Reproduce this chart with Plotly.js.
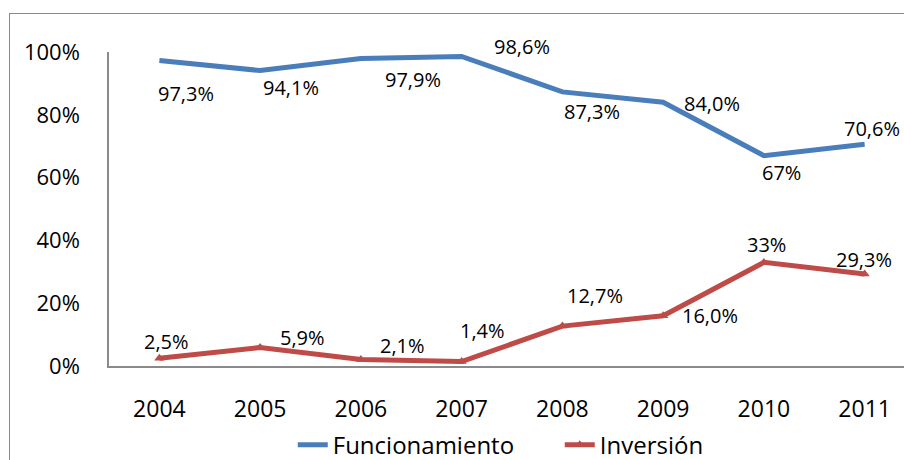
<!DOCTYPE html>
<html>
<head>
<meta charset="utf-8">
<script src="https://cdn.plot.ly/plotly-3.0.1.min.js"></script>
<style>
html,body{margin:0;padding:0;width:904px;height:460px;overflow:hidden;background:#fff;}
#frame{position:absolute;left:9px;top:13px;width:1000px;height:600px;border:1.5px solid #8a8a8a;box-sizing:border-box;}
#chart{position:absolute;left:0;top:0;width:930px;height:470px;}
</style>
</head>
<body>
<div id="frame"></div>
<div id="chart"></div>
<script>
const years = ['2004','2005','2006','2007','2008','2009','2010','2011'];
const funcionamiento = [0.973, 0.941, 0.979, 0.986, 0.873, 0.840, 0.67, 0.706];
const inversion = [0.025, 0.059, 0.021, 0.014, 0.127, 0.160, 0.33, 0.293];
const funcLabels = ['97,3%','94,1%','97,9%','98,6%','87,3%','84,0%','67%','70,6%'];
const invLabels = ['2,5%','5,9%','2,1%','1,4%','12,7%','16,0%','33%','29,3%'];
const yTickVals = [0, 0.2, 0.4, 0.6, 0.8, 1];
const yTickText = ['0%','20%','40%','60%','80%','100%'];

// label offsets (px) relative to each point
const funcShift = [[27,-33],[31,-17],[52,-21],[60,10],[30,-20],[49,-1],[18,-17],[7,16]];
const invShift = [[7,17],[42,10],[42,14],[21,31],[33,31],[47,0],[3,18],[-1,15]];

const blue = '#4A7EBB';
const red = '#BE4B48';
const font = 'Open Sans, Liberation Sans, sans-serif';

const annotations = [];
years.forEach(function(yr,i){
  annotations.push({x:i, y:funcionamiento[i], xref:'x', yref:'y', text:funcLabels[i], showarrow:false,
    xshift:funcShift[i][0], yshift:funcShift[i][1], font:{family:font,size:20,color:'#000'}});
  annotations.push({x:i, y:inversion[i], xref:'x', yref:'y', text:invLabels[i], showarrow:false,
    xshift:invShift[i][0], yshift:invShift[i][1], font:{family:font,size:20,color:'#000'}});
});

const data = [
  {x:years, y:funcionamiento, type:'scatter', mode:'lines', name:'Funcionamiento',
   line:{color:blue, width:5}, hoverinfo:'skip'},
  {x:years, y:inversion, type:'scatter', mode:'lines+markers', name:'Inversión',
   line:{color:red, width:5}, marker:{symbol:'triangle-up', size:9, color:red}, hoverinfo:'skip'}
];

const layout = {
  width:930, height:470,
  margin:{l:109, r:15, t:52, b:104, autoexpand:false},
  paper_bgcolor:'rgba(0,0,0,0)', plot_bgcolor:'rgba(0,0,0,0)',
  font:{family:font, size:22, color:'#000'},
  xaxis:{type:'category', range:[-0.5,7.5], showline:true, linecolor:'#8a8a8a', linewidth:1.5,
    showgrid:false, zeroline:false, ticks:'outside', ticklen:22, tickcolor:'rgba(0,0,0,0)',
    tickfont:{family:font,size:23,color:'#000'}, automargin:false},
  yaxis:{range:[0,1], tickvals:yTickVals, ticktext:yTickText, showline:true, linecolor:'#8a8a8a', linewidth:1.5,
    showgrid:false, zeroline:false, ticks:'outside', ticklen:23, tickcolor:'rgba(0,0,0,0)',
    tickfont:{family:font,size:22,color:'#000'}, automargin:false},
  showlegend:true,
  legend:{orientation:'h', x:0.228, xanchor:'left', y:-0.252, yanchor:'middle', entrywidth:222,
    font:{family:font,size:24,color:'#000'}, bgcolor:'rgba(0,0,0,0)'},
  annotations:annotations
};

Plotly.newPlot('chart', data, layout, {displayModeBar:false});
</script>
</body>
</html>
